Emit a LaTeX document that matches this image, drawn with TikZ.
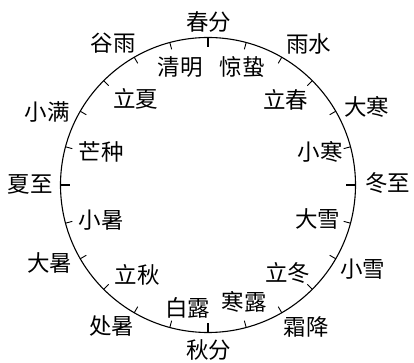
\documentclass[tikz,border=0pt]{standalone}
\usepackage{fontspec}
\newfontfamily\cjk{Noto Sans CJK SC}

\begin{document}
\begin{tikzpicture}
  [
    x = 1pt, y = 1pt,
    every node/.style = { font = \cjk\fontsize{22.5}{22.5}\selectfont, inner sep = 0pt },
    tick/.style = { line width = 0.9pt }
  ]
    \useasboundingbox (-208,-178) rectangle (206,185);
    \draw [line width = 1.1pt] (0,0) circle (147.5);
    % ticks
    \foreach \a in {15,30,...,345}
      \draw [tick] (\a:147.5) -- (\a:140.5);
    \foreach \a in {0,90,180,270}
      \draw [tick, line width = 1.6pt] (\a:147.5) -- (\a:137.5);
    % outer terms
    \node (chunfen) at (0.5,163) {春分};
    \node (yushui) at (100.5,141) {雨水};
    \node (dahan) at (158.5,78) {大寒};
    \node (dongzhi) at (179.5,1.5) {冬至};
    \node (xiaoxue) at (154.5,-84) {小雪};
    \node (shuangjiang) at (98,-142) {霜降};
    \node (qiufen) at (0.5,-165) {秋分};
    \node (chushu) at (-96,-141) {处暑};
    \node (dashu) at (-158,-78) {大暑};
    \node (xiazhi) at (-177.5,1) {夏至};
    \node (xiaoman) at (-160.5,73) {小满};
    \node (guyu) at (-94.5,142) {谷雨};
    % inner terms
    \node (qingming) at (-28,117.5) {清明};
    \node (jingzhe) at (34,117.5) {惊蛰};
    \node (lichun) at (77.5,85) {立春};
    \node (xiaohan) at (112,33.5) {小寒};
    \node (daxue) at (109.5,-34) {大雪};
    \node (lidong) at (79.5,-88) {立冬};
    \node (hanlu) at (36,-117) {寒露};
    \node (bailu) at (-20.5,-123) {白露};
    \node (liqiu) at (-70.5,-90) {立秋};
    \node (xiaoshu) at (-106.5,-35) {小暑};
    \node (mangzhong) at (-106.5,33.5) {芒种};
    \node (lixia) at (-72.5,86) {立夏};
  \end{tikzpicture}
\end{document}
